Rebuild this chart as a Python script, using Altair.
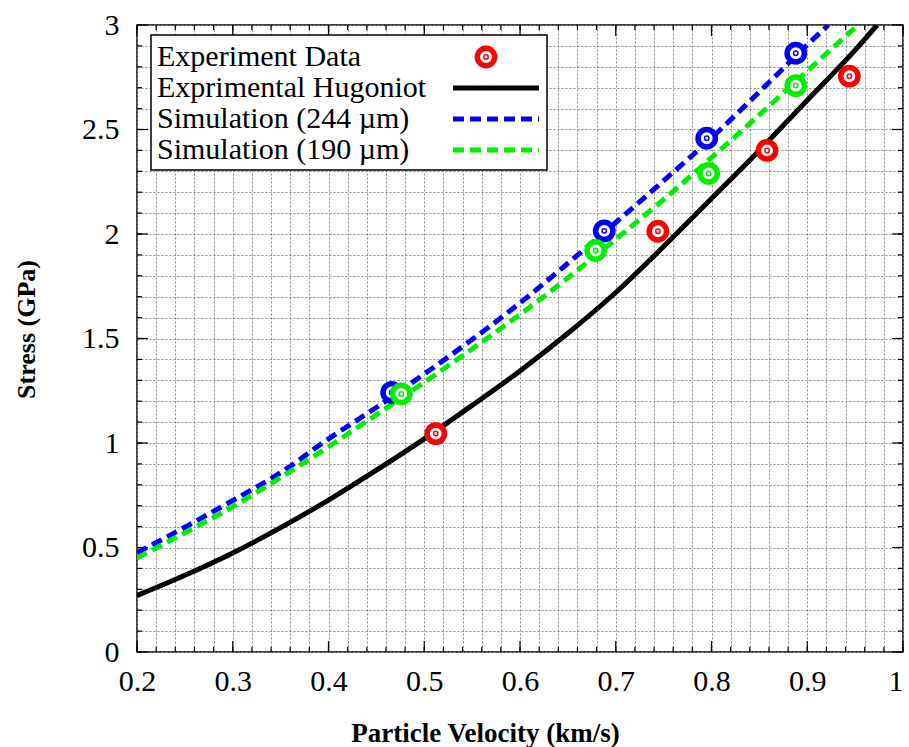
import altair as alt
import pandas as pd

# Experimental Hugoniot (solid black)
hug_u = [0.2, 0.25, 0.3, 0.35, 0.4, 0.45, 0.5, 0.55, 0.6, 0.65, 0.7, 0.75, 0.8, 0.85, 0.9, 0.95, 0.973]
hug_s = [0.27, 0.367, 0.474, 0.595, 0.727, 0.870, 1.02, 1.18, 1.345, 1.525, 1.72, 1.94, 2.17, 2.40, 2.64, 2.88, 3.0]

# Simulation 244 um (blue dashed)
s244_u = [0.2, 0.25, 0.3, 0.35, 0.4, 0.45, 0.5, 0.55, 0.6, 0.65, 0.7, 0.75, 0.8, 0.85, 0.9, 0.922]
s244_s = [0.475, 0.597, 0.725, 0.858, 1.02, 1.17, 1.33, 1.495, 1.67, 1.86, 2.055, 2.255, 2.46, 2.68, 2.905, 3.0]

# Simulation 190 um (green dashed)
s190_u = [0.2, 0.25, 0.3, 0.35, 0.4, 0.45, 0.5, 0.55, 0.6, 0.65, 0.7, 0.75, 0.8, 0.85, 0.9, 0.953]
s190_s = [0.45, 0.57, 0.695, 0.835, 0.982, 1.135, 1.29, 1.45, 1.615, 1.79, 1.975, 2.165, 2.365, 2.57, 2.78, 3.0]

# Points
exp_u = [0.512, 0.744, 0.858, 0.944]
exp_s = [1.045, 2.013, 2.40, 2.755]
p244_u = [0.466, 0.688, 0.795, 0.888]
p244_s = [1.242, 2.015, 2.458, 2.865]
p190_u = [0.476, 0.679, 0.797, 0.888]
p190_s = [1.235, 1.921, 2.29, 2.71]

legend_labels = ["Experiment Data", "Exprimental Hugoniot",
                 "Simulation (244 \u00b5m)", "Simulation (190 \u00b5m)"]

W, H = 766, 627
FONT = "Liberation Serif"
GREEN = "#00ee00"

x_major = [round(0.2 + 0.1 * i, 2) for i in range(9)]
x_minor = [round(0.2 + 0.02 * i, 2) for i in range(41)]
y_major = [round(0.5 * i, 1) for i in range(7)]
y_minor = [round(0.1 * i, 1) for i in range(31)]

xs = alt.Scale(domain=[0.2, 1.0], nice=False, zero=False)
ys = alt.Scale(domain=[0, 3], nice=False, zero=False)

xaxis = alt.Axis(
    values=x_minor, grid=True, gridDash=[2, 2], gridColor="#8a8a8a", gridWidth=1,
    ticks=False, tickSize=0, domain=False,
    labelExpr="abs(datum.value*10 - round(datum.value*10)) < 0.001 ? format(datum.value, '.1~f') : ''",
    labelAlign={"condition": {"test": "datum.value > 0.99", "value": "right"}, "value": "center"},
    labelFont=FONT, labelFontSize=30, labelColor="black", labelPadding=14,
    labelOverlap=False, labelFlush=False,
    title="Particle Velocity (km/s)", titleFont=FONT, titleFontWeight="bold",
    titleFontSize=27, titleColor="black", titleX=348, titleY=81,
    titleBaseline="middle", titleAlign="center",
)
yaxis = alt.Axis(
    values=y_minor, grid=True, gridDash=[2, 2], gridColor="#8a8a8a", gridWidth=1,
    ticks=False, tickSize=0, domain=False,
    labelExpr="abs(datum.value*2 - round(datum.value*2)) < 0.001 ? format(datum.value, '.1~f') : ''",
    labelFont=FONT, labelFontSize=30, labelColor="black", labelPadding=18,
    labelOverlap=False, labelFlush=False,
    title="Stress (GPa)", titleFont=FONT, titleFontWeight="bold",
    titleFontSize=26, titleColor="black", titleX=-111, titleY=304,
    titleBaseline="middle", titleAlign="center", titleAngle=270,
)

xenc = alt.X("u:Q", scale=xs, axis=xaxis)
yenc = alt.Y("s:Q", scale=ys, axis=yaxis)

df_hug = pd.DataFrame({"u": hug_u, "s": hug_s})
df_244 = pd.DataFrame({"u": s244_u, "s": s244_s})
df_190 = pd.DataFrame({"u": s190_u, "s": s190_s})
df_exp = pd.DataFrame({"u": exp_u, "s": exp_s})
df_p244 = pd.DataFrame({"u": p244_u, "s": p244_s})
df_p190 = pd.DataFrame({"u": p190_u, "s": p190_s})

RING = dict(shape="circle", filled=False, fill="white", fillOpacity=1,
            strokeWidth=5.5, size=300, opacity=1)
DOT = dict(shape="circle", filled=False, strokeWidth=1.5, size=20, opacity=1)

def ring(df, color):
    outer = alt.Chart(df).mark_point(stroke=color, **RING).encode(x=xenc, y=yenc)
    inner = alt.Chart(df).mark_point(stroke=color, **DOT).encode(x=xenc, y=yenc)
    return outer + inner

line_hug = alt.Chart(df_hug).mark_line(
    color="black", strokeWidth=5, clip=True, interpolate="monotone").encode(x=xenc, y=yenc)
line_244 = alt.Chart(df_244).mark_line(
    color="#0000ff", strokeWidth=5, strokeDash=[11, 6], clip=True, interpolate="monotone"
).encode(x=xenc, y=yenc)
line_190 = alt.Chart(df_190).mark_line(
    color=GREEN, strokeWidth=5, strokeDash=[11, 6], clip=True, interpolate="monotone"
).encode(x=xenc, y=yenc)

# inner ticks (mirrored on all sides)
df_xmaj = pd.DataFrame({"u": x_major})
df_xmin = pd.DataFrame({"u": x_minor})
df_ymaj = pd.DataFrame({"s": y_major})
df_ymin = pd.DataFrame({"s": y_minor})
tick_style = dict(color="black", strokeWidth=1.2)
ticks = (
    alt.Chart(df_xmaj).mark_rule(**tick_style).encode(x=xenc, y=alt.value(H), y2=alt.value(H - 11))
    + alt.Chart(df_xmaj).mark_rule(**tick_style).encode(x=xenc, y=alt.value(0), y2=alt.value(11))
    + alt.Chart(df_xmin).mark_rule(**tick_style).encode(x=xenc, y=alt.value(H), y2=alt.value(H - 5))
    + alt.Chart(df_xmin).mark_rule(**tick_style).encode(x=xenc, y=alt.value(0), y2=alt.value(5))
    + alt.Chart(df_ymaj).mark_rule(**tick_style).encode(y=yenc, x=alt.value(0), x2=alt.value(11))
    + alt.Chart(df_ymaj).mark_rule(**tick_style).encode(y=yenc, x=alt.value(W), x2=alt.value(W - 11))
    + alt.Chart(df_ymin).mark_rule(**tick_style).encode(y=yenc, x=alt.value(0), x2=alt.value(5))
    + alt.Chart(df_ymin).mark_rule(**tick_style).encode(y=yenc, x=alt.value(W), x2=alt.value(W - 5))
)

# legend (drawn manually inside the plot)
one = pd.DataFrame({"k": [0]})
leg_box = alt.Chart(one).mark_rect(fill="white", stroke="black", strokeWidth=1.5).encode(
    x=alt.value(14), x2=alt.value(410), y=alt.value(10), y2=alt.value(145))
leg_rows = pd.DataFrame({"label": legend_labels, "py": [32, 63, 94, 125]})
leg_text = alt.Chart(leg_rows).mark_text(
    align="left", baseline="middle", font=FONT, fontSize=30, color="black"
).encode(x=alt.value(20), y=alt.Y("py:Q", scale=None), text="label:N")
leg_ring_o = alt.Chart(one).mark_point(stroke="#ff0000", **RING).encode(
    x=alt.value(349), y=alt.value(32))
leg_ring_i = alt.Chart(one).mark_point(stroke="#ff0000", **DOT).encode(
    x=alt.value(349), y=alt.value(32))
leg_l1 = alt.Chart(one).mark_rule(color="black", strokeWidth=5).encode(
    x=alt.value(316), x2=alt.value(402), y=alt.value(63))
leg_l2 = alt.Chart(one).mark_rule(color="#0000ff", strokeWidth=5, strokeDash=[11, 6]).encode(
    x=alt.value(316), x2=alt.value(402), y=alt.value(94))
leg_l3 = alt.Chart(one).mark_rule(color=GREEN, strokeWidth=5, strokeDash=[11, 6]).encode(
    x=alt.value(316), x2=alt.value(402), y=alt.value(125))

chart = alt.layer(
    line_hug, ticks, line_244, line_190,
    ring(df_exp, "#ff0000"), ring(df_p244, "#0000ff"), ring(df_p190, GREEN),
    leg_box, leg_text, leg_ring_o, leg_ring_i, leg_l1, leg_l2, leg_l3,
).properties(
    width=W, height=H,
    padding={"left": 137, "top": 25, "right": 6, "bottom": 95},
    autosize=alt.AutoSizeParams(type="none"),
    background="white",
).configure_view(stroke="black", strokeWidth=1.5)

chart.save("out.html", embed_options={"renderer": "svg", "actions": False})
